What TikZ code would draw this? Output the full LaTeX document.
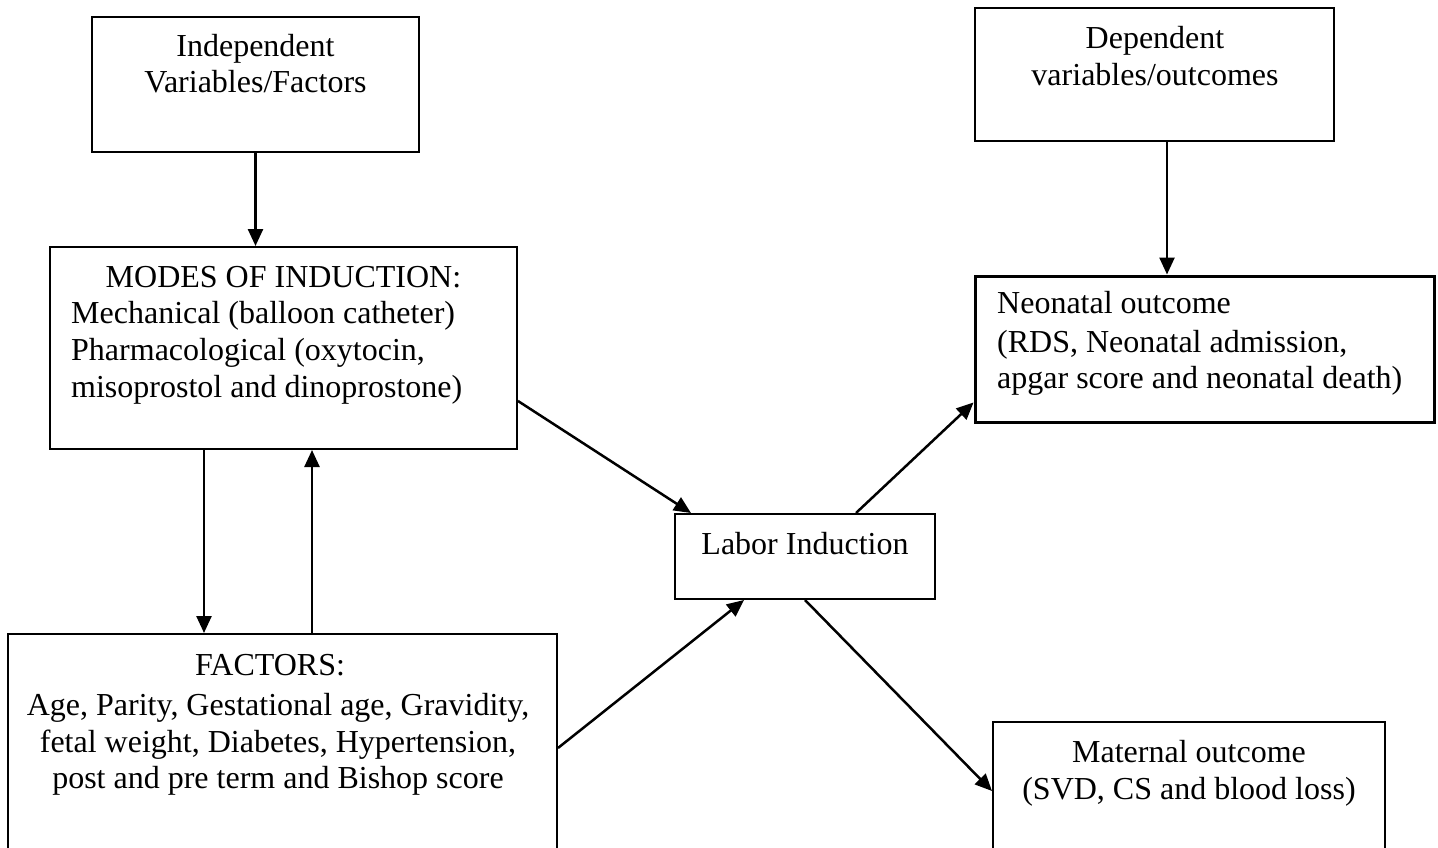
\documentclass[tikz,border=0pt]{standalone}
\usepackage{fontspec}
\setmainfont{Liberation Serif}
\usetikzlibrary{arrows.meta,calc}
\tikzset{
  box/.style={draw=black, line width=2pt, rectangle, inner sep=0pt, fill=none},
  txt/.style={inner sep=0pt, anchor=base, font=\fontsize{32}{37}\selectfont},
  txtl/.style={txt, anchor=base west},
  arr/.style={line width=2.5pt, -{Triangle[length=17pt,width=15pt]}},
}
\begin{document}
\begin{tikzpicture}[x=1pt,y=-1pt]
\clip (0,0) rectangle (1438,848);
\fill[white] (0,0) rectangle (1438,848);
% boxes
\node[box, minimum width=327pt, minimum height=135pt] (ind) at (255.5,84.5) {};
\node[box, minimum width=359pt, minimum height=133pt] (dep) at (1154.5,74.5) {};
\node[box, minimum width=467pt, minimum height=202pt] (modes) at (283.5,348) {};
\node[box, line width=3pt, minimum width=459pt, minimum height=146pt] (neo) at (1204.5,349) {};
\node[box, minimum width=260pt, minimum height=85pt] (labor) at (805,556.5) {};
\node[box, minimum width=549pt, minimum height=266pt] (factors) at (282.5,767) {};
\node[box, minimum width=392pt, minimum height=178pt] (maternal) at (1189,811) {};
% texts
\node[txt] (indA) at (255.5,57) {Independent};
\node[txt] (indB) at (255.5,93) {Variables/Factors};
\node[txt] (depA) at (1155,49) {Dependent};
\node[txt] (depB) at (1155,86) {variables/outcomes};
\node[txt] (modA) at (283.5,287) {MODES OF INDUCTION:};
\node[txtl] (modB) at (71,323) {Mechanical (balloon catheter)};
\node[txtl] (modC) at (71,360) {Pharmacological (oxytocin,};
\node[txtl] (modD) at (71,397) {misoprostol and dinoprostone)};
\node[txtl] (neoA) at (997,313) {Neonatal outcome};
\node[txtl] (neoB) at (997,352) {(RDS, Neonatal admission,};
\node[txtl] (neoC) at (997,388) {apgar score and neonatal death)};
\node[txt] (labA) at (805,554) {Labor Induction};
\node[txt] (facA) at (270,675) {FACTORS:};
\node[txt] (facB) at (278,715) {Age, Parity, Gestational age, Gravidity,};
\node[txt] (facC) at (278,752) {fetal weight, Diabetes, Hypertension,};
\node[txt] (facD) at (278,788) {post and pre term and Bishop score};
\node[txt] (matA) at (1189,762) {Maternal outcome};
\node[txt] (matB) at (1189,799) {(SVD, CS and blood loss)};
% connector points
\coordinate (c1) at (ind.south);
\coordinate (c2) at ($(dep.south)+(12.5,0)$);
\coordinate (c3) at ($(modes.south west)+(155,0)$);
\coordinate (c4) at ($(factors.north west)+(305,0)$);
\coordinate (c5s) at ($(modes.south east)+(0,-49)$);
\coordinate (c5e) at ($(labor.north west)+(17,0)$);
\coordinate (c6s) at ($(factors.north east)+(0,115)$);
\coordinate (c6e) at ($(labor.south west)+(70,0)$);
\coordinate (c7s) at ($(labor.north west)+(182,0)$);
\coordinate (c7e) at ($(neo.south west)+(0,-21)$);
\coordinate (c8e) at ($(maternal.north west)+(0,70)$);
% connectors
\draw[arr] (c1) -- (c1 |- modes.north);
\draw[arr] (c2) -- (c2 |- neo.north);
\draw[arr] (c3) -- (c3 |- factors.north);
\draw[arr] (c4) -- (c4 |- modes.south);
\draw[arr] (c5s) -- (c5e);
\draw[arr] (c6s) -- (c6e);
\draw[arr] (c7s) -- (c7e);
\draw[arr] (labor.south) -- (c8e);
\end{tikzpicture}
\end{document}
